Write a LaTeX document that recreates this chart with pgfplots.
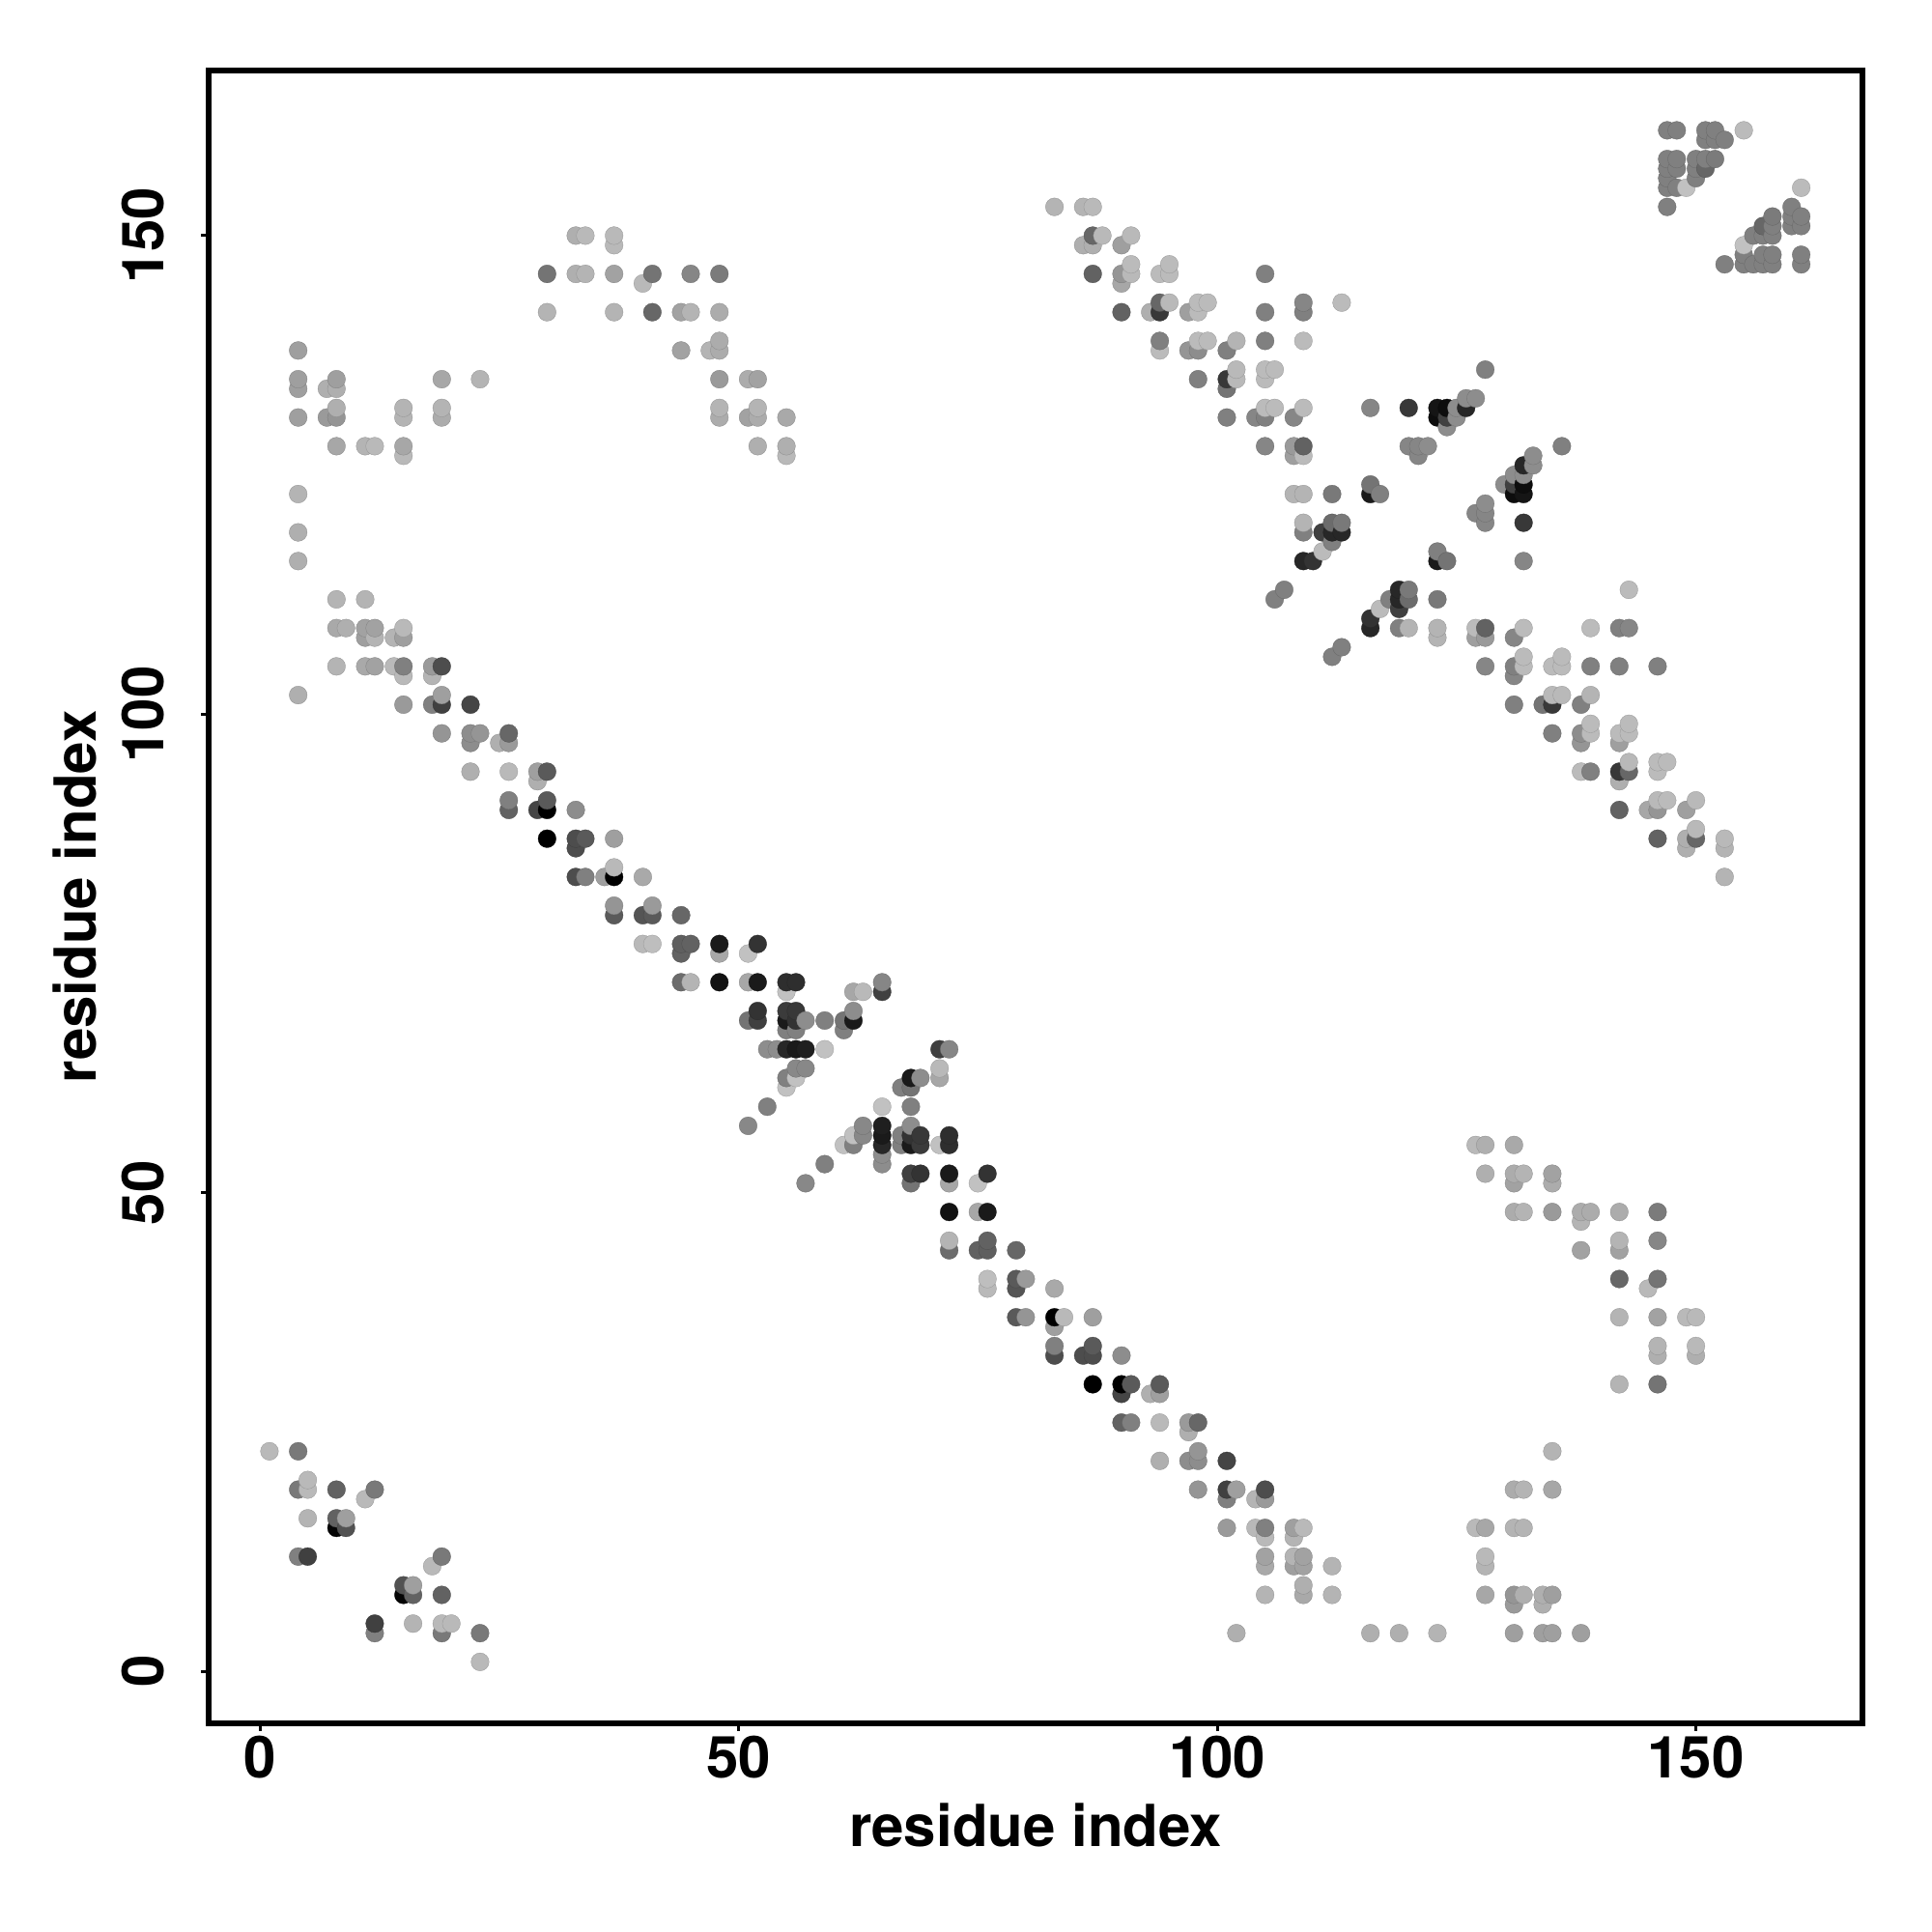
\documentclass[border=0pt]{standalone}
\usepackage{pgfplots}
\usepackage{pgfplotstable}
\usepackage{fontspec}
\setmainfont{TeX Gyre Heros}
\pgfplotsset{compat=1.18}

% contacts above the diagonal: residue a, residue b, gray level
\pgfplotstableread[row sep=\\]{
a b g\\
1 23 0.72\\
4 12 0.5\\ 4 19 0.47\\ 4 23 0.47\\ 4 102 0.68\\ 4 116 0.68\\ 4 119 0.68\\ 4 123 0.7\\ 4 131 0.62\\ 4 134 0.62\\ 4 135 0.62\\ 4 138 0.62\\
5 12 0.25\\ 5 16 0.7\\ 5 19 0.72\\ 5 20 0.72\\
7 131 0.6\\ 7 134 0.68\\
8 15 0.02\\ 8 16 0.38\\ 8 19 0.38\\ 8 105 0.7\\ 8 109 0.66\\ 8 112 0.7\\ 8 128 0.65\\ 8 131 0.58\\ 8 132 0.68\\ 8 134 0.68\\ 8 135 0.62\\
9 15 0.32\\ 9 16 0.62\\ 9 109 0.68\\
11 18 0.72\\ 11 105 0.66\\ 11 108 0.62\\ 11 109 0.63\\ 11 112 0.7\\ 11 128 0.7\\
12 19 0.47\\ 12 105 0.63\\ 12 108 0.7\\ 12 109 0.63\\ 12 128 0.72\\
14 105 0.72\\ 14 108 0.7\\
15 101 0.6\\ 15 104 0.72\\ 15 105 0.5\\ 15 108 0.62\\ 15 109 0.72\\ 15 127 0.72\\ 15 128 0.65\\ 15 131 0.7\\ 15 132 0.7\\
18 101 0.5\\ 18 104 0.7\\ 18 105 0.6\\
19 98 0.58\\ 19 101 0.25\\ 19 102 0.62\\ 19 105 0.3\\ 19 131 0.67\\ 19 132 0.7\\ 19 135 0.65\\
22 94 0.68\\ 22 97 0.55\\ 22 98 0.55\\ 22 101 0.27\\
23 98 0.58\\ 23 135 0.7\\
25 97 0.68\\
26 90 0.38\\ 26 91 0.5\\ 26 94 0.72\\ 26 97 0.6\\ 26 98 0.4\\
29 90 0.27\\ 29 93 0.68\\ 29 94 0.62\\
30 87 0\\ 30 90 0\\ 30 91 0.35\\ 30 94 0.35\\ 30 142 0.7\\ 30 146 0.45\\
33 83 0.3\\ 33 86 0.3\\ 33 87 0.3\\ 33 90 0.55\\ 33 146 0.68\\ 33 150 0.68\\
34 83 0.5\\ 34 87 0.35\\ 34 146 0.7\\ 34 150 0.72\\
36 83 0.62\\
37 79 0.35\\ 37 80 0.58\\ 37 83 0\\ 37 84 0.72\\ 37 87 0.62\\ 37 142 0.7\\ 37 146 0.63\\ 37 149 0.72\\ 37 150 0.72\\
40 76 0.72\\ 40 79 0.33\\ 40 83 0.66\\ 40 145 0.72\\
41 76 0.74\\ 41 79 0.35\\ 41 80 0.6\\ 41 142 0.4\\ 41 146 0.45\\
44 72 0.42\\ 44 75 0.38\\ 44 76 0.37\\ 44 79 0.4\\ 44 138 0.63\\ 44 142 0.63\\
45 72 0.7\\ 45 76 0.38\\ 45 142 0.7\\ 45 146 0.52\\
47 138 0.7\\
48 72 0.07\\ 48 75 0.65\\ 48 76 0.1\\ 48 131 0.67\\ 48 132 0.7\\ 48 135 0.6\\ 48 138 0.67\\ 48 139 0.67\\ 48 142 0.67\\ 48 146 0.48\\
51 57 0.53\\ 51 68 0.45\\ 51 72 0.65\\ 51 75 0.75\\ 51 131 0.63\\ 51 135 0.67\\
52 68 0.25\\ 52 69 0.2\\ 52 72 0.1\\ 52 76 0.2\\ 52 128 0.68\\ 52 131 0.67\\ 52 132 0.7\\ 52 135 0.63\\
53 59 0.5\\ 53 65 0.55\\
54 65 0.55\\
55 61 0.75\\ 55 62 0.5\\ 55 65 0.15\\ 55 67 0.5\\ 55 68 0.1\\ 55 69 0.23\\ 55 71 0.75\\ 55 72 0.18\\ 55 127 0.72\\ 55 128 0.68\\ 55 131 0.66\\
56 62 0.75\\ 56 63 0.53\\ 56 65 0.1\\ 56 67 0.5\\ 56 68 0.2\\ 56 69 0.22\\ 56 72 0.18\\
57 63 0.53\\ 57 65 0.12\\ 57 68 0.55\\
59 65 0.75\\ 59 68 0.5\\
61 67 0.5\\ 61 68 0.45\\
62 68 0.1\\ 62 69 0.55\\ 62 71 0.65\\
63 71 0.72\\
65 71 0.25\\ 65 72 0.52\\
83 153 0.7\\
86 149 0.68\\ 86 153 0.7\\
87 146 0.38\\ 87 149 0.68\\ 87 150 0.4\\ 87 153 0.72\\
88 150 0.72\\
90 142 0.38\\ 90 145 0.65\\ 90 146 0.58\\ 90 149 0.62\\
91 146 0.72\\ 91 147 0.73\\ 91 150 0.72\\
93 142 0.68\\
94 138 0.73\\ 94 139 0.5\\ 94 142 0.22\\ 94 143 0.4\\ 94 146 0.73\\
95 143 0.72\\ 95 146 0.73\\ 95 147 0.73\\
97 138 0.58\\ 97 142 0.62\\
98 135 0.5\\ 98 138 0.55\\ 98 139 0.73\\ 98 142 0.73\\ 98 143 0.73\\
99 139 0.73\\ 99 143 0.73\\
101 131 0.5\\ 101 134 0.45\\ 101 135 0.22\\ 101 138 0.5\\
102 135 0.72\\ 102 136 0.72\\ 102 139 0.7\\
104 131 0.52\\
105 128 0.52\\ 105 131 0.5\\ 105 132 0.73\\ 105 135 0.73\\ 105 136 0.73\\ 105 139 0.5\\ 105 142 0.5\\ 105 146 0.5\\
106 112 0.5\\ 106 132 0.73\\ 106 136 0.73\\
107 113 0.5\\
108 123 0.7\\ 108 127 0.62\\ 108 128 0.6\\ 108 131 0.52\\
109 116 0.15\\ 109 119 0.5\\ 109 120 0.7\\ 109 123 0.7\\ 109 127 0.73\\ 109 128 0.38\\ 109 132 0.73\\ 109 139 0.73\\ 109 142 0.5\\ 109 143 0.52\\
110 116 0.2\\
111 117 0.73\\ 111 119 0.25\\
112 118 0.5\\ 112 119 0.15\\ 112 120 0.42\\ 112 123 0.47\\
113 119 0.15\\ 113 120 0.47\\ 113 143 0.73\\
116 123 0.1\\ 116 124 0.45\\ 116 132 0.52\\
117 123 0.5\\
120 128 0.52\\ 120 132 0.22\\
121 127 0.52\\ 121 128 0.52\\
122 128 0.55\\
123 131 0.05\\ 123 132 0.08\\
124 130 0.55\\ 124 131 0.25\\ 124 132 0.05\\
125 131 0.55\\ 125 132 0.55\\
126 132 0.15\\ 126 133 0.55\\
127 133 0.55\\
128 136 0.5\\
147 153 0.5\\ 147 155 0.5\\ 147 156 0.5\\ 147 157 0.5\\ 147 158 0.5\\ 147 161 0.5\\
148 155 0.5\\ 148 157 0.5\\ 148 158 0.5\\ 148 161 0.5\\
149 155 0.75\\
150 156 0.5\\ 150 157 0.5\\ 150 158 0.5\\
151 157 0.4\\ 151 158 0.5\\ 151 160 0.5\\ 151 161 0.5\\
152 158 0.48\\ 152 160 0.5\\ 152 161 0.5\\
153 160 0.5\\
155 161 0.73\\
}\contacts

% the mirrored half is drawn in order of b, then a
\pgfplotstablecreatecol[create col/expr={\thisrow{b}*1000+\thisrow{a}}]{k}{\contacts}
\pgfplotstablesort[sort key=k]{\mirrored}{\contacts}

\pgfplotsset{
    contact/.style={
        scatter, only marks, mark=*, mark size=4.65pt,
        point meta=explicit,
        mark options={line width=0.15pt},
    },
}

\begin{document}
\begin{tikzpicture}[x=1pt,y=1pt]
    \path[use as bounding box] (0,0) rectangle (1000,1000);
    \begin{axis}[
            at={(108pt,108pt)},
            anchor=south west,
            scale only axis,
            width=856pt,
            height=855.5pt,
            xmin=-5.35, xmax=167.4,
            ymin=-5.42, ymax=167.25,
            xtick={0,50,100,150},
            ytick={0,50,100,150},
            xtick pos=bottom,
            ytick pos=left,
            tick align=outside,
            major tick length=4pt,
            tick style={black,line width=1.5pt},
            axis line style={black,line width=3.2pt},
            /pgf/number format/assume math mode=true,
            tick label style={font=\fontsize{30}{30}\selectfont\bfseries},
            xticklabel style={anchor=base,yshift=-24.5pt},
            yticklabel style={rotate=90,anchor=base,yshift=19.5pt},
            label style={font=\fontsize{30}{30}\selectfont\bfseries},
            xlabel={residue index},
            ylabel={residue index},
            xlabel style={at={(axis description cs:0.5,-0.0745)},anchor=base},
            ylabel style={at={(axis description cs:-0.068,0.5)},anchor=base},
            colormap={bw}{color=(black) color=(white)},
            point meta min=0,
            point meta max=1,
        ]
        \addplot[contact] table[x=a,y=b,meta=g] {\contacts};
        \addplot[contact] table[x=b,y=a,meta=g] {\mirrored};
    \end{axis}
\end{tikzpicture}
\end{document}
